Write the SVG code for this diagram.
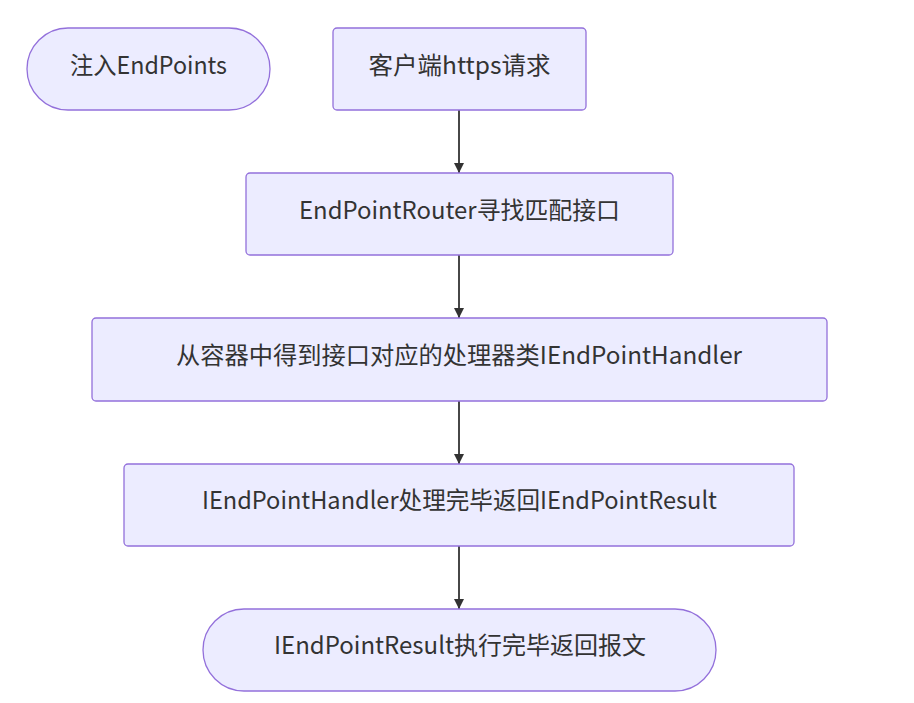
<svg xmlns="http://www.w3.org/2000/svg" width="914" height="703" viewBox="0 0 914 703">
<style>
.node{fill:#ECECFF;stroke:#9370DB;stroke-width:1.3}
.lbl{font-family:"Noto Sans CJK SC","Noto Sans",sans-serif;font-size:24px;fill:#333;text-anchor:middle}
.edge{stroke:#333;stroke-width:1.8;fill:none}
</style>
<defs>
<marker id="arr" viewBox="0 0 10 10" refX="10" refY="5" markerWidth="10" markerHeight="10" markerUnits="userSpaceOnUse" orient="auto">
<path d="M0,0 L10,5 L0,10 z" fill="#333"/>
</marker>
</defs>
<rect width="914" height="703" fill="#fff"/>
<g id="connectors">
<line class="edge" x1="459" y1="110" x2="459" y2="173" marker-end="url(#arr)"/>
<line class="edge" x1="459" y1="255" x2="459" y2="318" marker-end="url(#arr)"/>
<line class="edge" x1="459" y1="401" x2="459" y2="464" marker-end="url(#arr)"/>
<line class="edge" x1="459" y1="546" x2="459" y2="609" marker-end="url(#arr)"/>
</g>
<g id="inject">
<rect class="node" x="27" y="28" width="243" height="82" rx="41" ry="41"/>
<text class="lbl" x="148.5" y="74" textLength="157" lengthAdjust="spacingAndGlyphs">注入EndPoints</text>
</g>
<g id="request">
<rect class="node" x="333" y="28" width="253" height="82" rx="4" ry="4"/>
<text class="lbl" x="459.5" y="74" textLength="182" lengthAdjust="spacingAndGlyphs">客户端https请求</text>
</g>
<g id="router">
<rect class="node" x="246" y="173" width="427" height="82" rx="4" ry="4"/>
<text class="lbl" x="459.5" y="219" textLength="321" lengthAdjust="spacingAndGlyphs">EndPointRouter寻找匹配接口</text>
</g>
<g id="container">
<rect class="node" x="92" y="318" width="735" height="83" rx="4" ry="4"/>
<text class="lbl" x="459" y="364" textLength="566" lengthAdjust="spacingAndGlyphs">从容器中得到接口对应的处理器类IEndPointHandler</text>
</g>
<g id="handler">
<rect class="node" x="124" y="464" width="670" height="82" rx="4" ry="4"/>
<text class="lbl" x="459.5" y="509" textLength="515" lengthAdjust="spacingAndGlyphs">IEndPointHandler处理完毕返回IEndPointResult</text>
</g>
<g id="result">
<rect class="node" x="203" y="609" width="513" height="82" rx="41" ry="41"/>
<text class="lbl" x="460" y="654" textLength="372" lengthAdjust="spacingAndGlyphs">IEndPointResult执行完毕返回报文</text>
</g>
</svg>
